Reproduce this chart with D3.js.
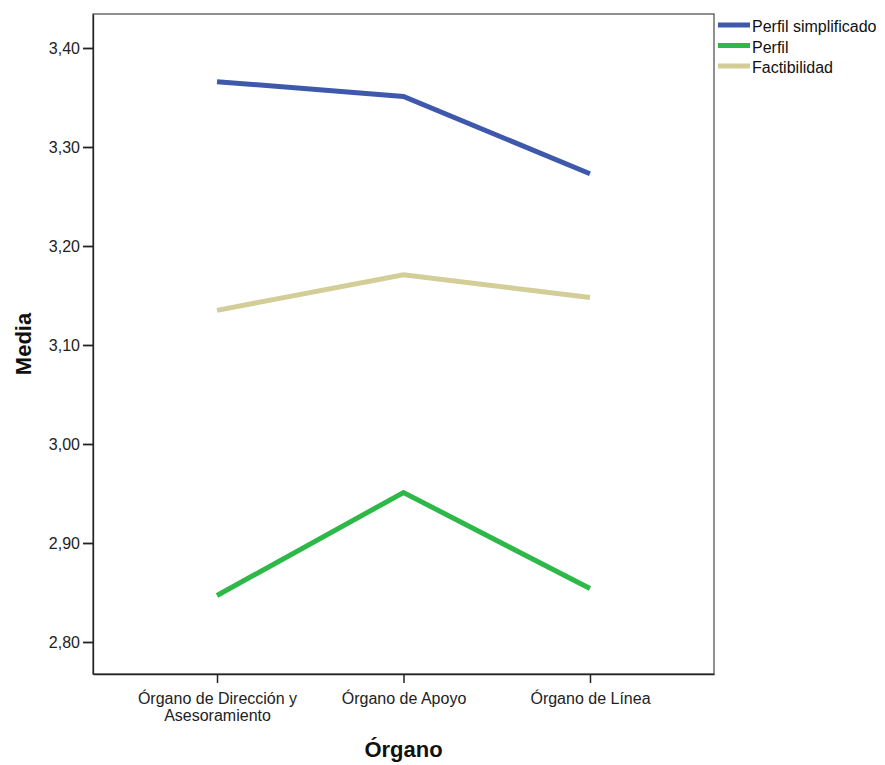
<!DOCTYPE html>
<html><head><meta charset="utf-8">
<script src="https://cdn.jsdelivr.net/npm/d3@7"></script>
<style>body{margin:0;background:#fff;} text{font-family:"Liberation Sans",Arial,sans-serif;}</style>
</head><body>
<svg id="c" width="885" height="765"></svg>
<script>
const categories = ["Órgano de Dirección y|Asesoramiento", "Órgano de Apoyo", "Órgano de Línea"];
const seriesNames = ["Perfil simplificado", "Perfil", "Factibilidad"];
const perfilSimplificado = [3.366, 3.351, 3.273];
const perfil = [2.847, 2.951, 2.854];
const factibilidad = [3.135, 3.171, 3.148];
const yTicks = [2.80, 2.90, 3.00, 3.10, 3.20, 3.30, 3.40];
const colors = ["#3e58ac", "#2eb848", "#d3ce97"];
const seriesValues = [perfilSimplificado, perfil, factibilidad];

const svg = d3.select("#c");
const L = 93, R = 714, T = 14, B = 674;
const FONT = "Liberation Sans, Arial, sans-serif";
const x = d3.scalePoint().domain(categories).range([L, R]).padding(0.665);
const y = d3.scaleLinear().domain([2.80 - 32/990, 3.40 + 34/990]).range([B, T]);

// frame
svg.append("rect").attr("x", L).attr("y", T).attr("width", R - L).attr("height", B - T)
  .attr("fill", "none").attr("stroke", "#555").attr("stroke-width", 1.3);

const fmt = d => d3.format(".2f")(d).replace(".", ",");
const yAxis = svg.append("g").attr("transform", `translate(${L},0)`)
  .call(d3.axisLeft(y).tickValues(yTicks).tickSize(10).tickSizeOuter(0).tickPadding(3).tickFormat(fmt));
yAxis.select(".domain").attr("stroke", "#222").attr("stroke-width", 1.3);
yAxis.selectAll(".tick line").attr("stroke", "#222").attr("stroke-width", 1.8);
yAxis.selectAll("text").attr("font-size", 16).attr("fill", "#222").attr("font-family", FONT);

const xAxis = svg.append("g").attr("transform", `translate(0,${B})`)
  .call(d3.axisBottom(x).tickSize(9).tickSizeOuter(0).tickFormat(""));
xAxis.select(".domain").attr("stroke", "#222").attr("stroke-width", 1.3);
xAxis.selectAll(".tick line").attr("stroke", "#222").attr("stroke-width", 1.5);
xAxis.selectAll(".tick").each(function(d) {
  const lines = d.split("|");
  const t = d3.select(this).append("text").attr("fill", "#222").attr("font-size", 16)
    .attr("text-anchor", "middle").attr("font-family", FONT);
  lines.forEach((ln, i) => t.append("tspan").attr("x", 0).attr("y", 30 + i * 17).text(ln));
});

const line = d3.line().x((d, i) => x(categories[i])).y(d => y(d));
seriesValues.forEach((vals, k) => {
  svg.append("path").datum(vals).attr("d", line).attr("fill", "none")
    .attr("stroke", colors[k]).attr("stroke-width", 5);
});

// legend
seriesNames.forEach((n, k) => {
  const yy = 25 + k * 20.5;
  svg.append("line").attr("x1", 718).attr("x2", 750).attr("y1", yy).attr("y2", yy)
    .attr("stroke", colors[k]).attr("stroke-width", 5);
  svg.append("text").attr("x", 752).attr("y", yy + 7).attr("font-size", 16).attr("fill", "#111")
    .attr("font-family", FONT).text(n);
});

// titles
svg.append("text").attr("x", (L + R) / 2).attr("y", 757).attr("text-anchor", "middle")
  .attr("font-size", 22).attr("font-weight", "bold").attr("fill", "#111").attr("font-family", FONT).text("Órgano");
svg.append("text").attr("transform", `translate(31,344) rotate(-90)`).attr("text-anchor", "middle")
  .attr("font-size", 22).attr("font-weight", "bold").attr("fill", "#111").attr("font-family", FONT).text("Media");
</script>
</body></html>
